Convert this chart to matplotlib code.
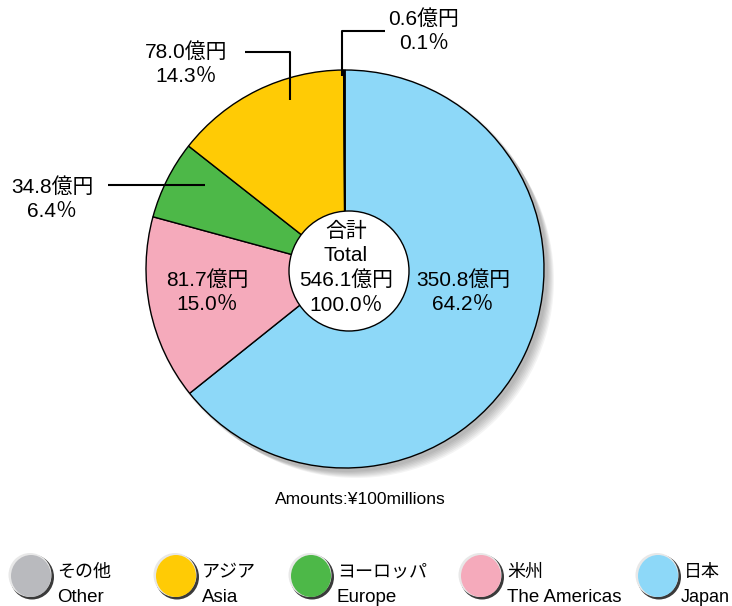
import matplotlib
matplotlib.use("Agg")
import matplotlib.pyplot as plt
from matplotlib.patches import Circle, Ellipse

plt.rcParams['font.family'] = ['Liberation Sans', 'Noto Sans CJK JP', 'DejaVu Sans']

# Data (clockwise from 12 o'clock)
regions_jp = ["日本", "米州", "ヨーロッパ", "アジア", "その他"]
regions_en = ["Japan", "The Americas", "Europe", "Asia", "Other"]
amounts = [350.8, 81.7, 34.8, 78.0, 0.6]
percents = [64.2, 15.0, 6.4, 14.3, 0.1]
colors = ["#8DD8F8", "#F5AABB", "#4DB848", "#FFCB05", "#B9BABE"]
total_amount = 546.1
total_pct = 100.0

W, H = 732, 606
fig = plt.figure(figsize=(W / 100, H / 100), dpi=100)
ax = fig.add_axes([0, 0, 1, 1])

def Y(y):
    return H - y

cx, cy, R = 345, Y(269), 199

# drop shadow
for i in range(7):
    off = 2 + i * 1.5
    ax.add_patch(Circle((cx + off, cy - off), R + 2 - i * 0.5, color="#000000", alpha=0.045, lw=0, zorder=0))

wedges, _ = ax.pie(amounts, colors=colors, startangle=90, counterclock=False,
                   center=(cx, cy), radius=R,
                   wedgeprops=dict(edgecolor="black", linewidth=1.0))
for w in wedges:
    w.set_zorder(2)
ax.add_patch(Circle((cx + 4, Y(271)), 60, facecolor="white", edgecolor="black", lw=1.0, zorder=3))

fs = 15
ls = 1.35
def lab(i):
    return f"{amounts[i]:.1f}億円\n{percents[i]:.1f}％"

ax.text(cx + 1, Y(268), f"合計\nTotal\n{total_amount:.1f}億円\n{total_pct:.1f}％", ha="center", va="center",
        fontsize=fs, linespacing=ls, zorder=4)
ax.text(463, Y(292), lab(0), ha="center", va="center", fontsize=fs, linespacing=ls, zorder=4)
ax.text(207, Y(292), lab(1), ha="center", va="center", fontsize=fs, linespacing=ls, zorder=4)
ax.text(52, Y(199), lab(2), ha="center", va="center", fontsize=fs, linespacing=ls, zorder=4)
ax.text(186, Y(64), lab(3), ha="center", va="center", fontsize=fs, linespacing=ls, zorder=4)
ax.text(424, Y(31), lab(4), ha="center", va="center", fontsize=fs, linespacing=ls, zorder=4)

# leader lines
lk = dict(color="black", lw=1.5, zorder=5, solid_capstyle="butt")
ax.plot([108, 205], [Y(185), Y(185)], **lk)
ax.plot([245, 290, 290], [Y(52), Y(52), Y(100)], **lk)
ax.plot([385, 342, 342], [Y(31), Y(31), Y(76)], **lk)

ax.text(360, Y(500), "Amounts:¥100millions", ha="center", va="center", fontsize=12.5)

# legend
leg_x = [657, 480, 310, 175, 30]
en_fs = [13, 13.5, 13.5, 13.5, 13.5]
en_dx = [24, 27, 27, 27, 27]
for i in range(5):
    x0 = leg_x[i]
    ax.add_patch(Ellipse((x0 + 2, Y(577)), 44, 45, color="#3a3a3a", lw=0, zorder=1))
    ax.add_patch(Ellipse((x0, Y(575)), 43, 44, color="#e8e8e8", lw=0, zorder=1))
    ax.add_patch(Ellipse((x0 + 1, Y(576)), 40, 42, color=colors[i], lw=0, zorder=2))
    ax.text(x0 + 27, Y(572), regions_jp[i], ha="left", va="center", fontsize=13)
    ax.text(x0 + en_dx[i], Y(597), regions_en[i], ha="left", va="center", fontsize=en_fs[i])

ax.set_xlim(0, W)
ax.set_ylim(0, H)
ax.set_aspect("equal")
ax.axis("off")
fig.savefig("out.png", dpi=100)
